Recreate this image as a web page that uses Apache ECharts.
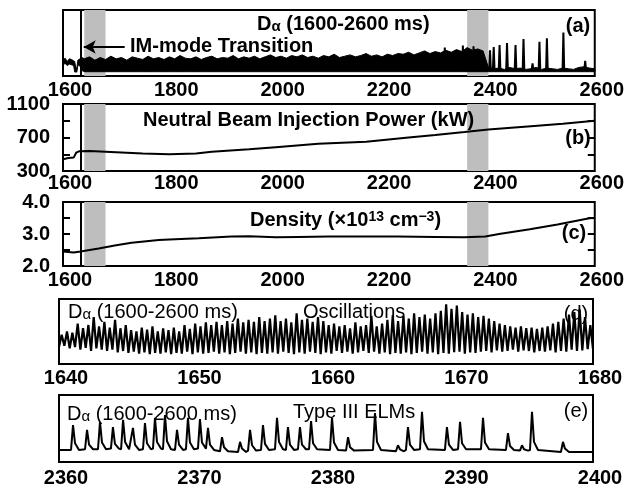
<!DOCTYPE html>
<html>
<head>
<meta charset="utf-8">
<script src="https://cdn.jsdelivr.net/npm/echarts@6/dist/echarts.min.js"></script>
<style>
  html, body { margin: 0; padding: 0; background: #fff; }
  #chart { width: 627px; height: 493px; }
</style>
</head>
<body>
<div id="chart"></div>
<script>
// ---------- panel (a): D-alpha, 1600-2600 ms ----------
const imTransition = 1633
const grayBands = [[1640, 1680], [2360, 2400]]
// dense signal drawn as a filled band: top edge every 10 ms from 1640
const bandStart = 1640
const bandStep = 10
const bandHi = [
  2.6, 2.9, 2.4, 2.8, 2.5, 3.0, 2.6, 2.8, 2.4, 2.9,
  2.7, 2.5, 3.0, 2.6, 2.8, 2.5, 2.9, 2.6, 3.1, 2.7,
  2.6, 2.9, 2.5, 2.8, 3.0, 2.6, 2.8, 2.7, 3.1, 2.6,
  2.9, 2.7, 3.0, 2.6, 2.9, 3.2, 2.8, 3.0, 2.7, 3.1,
  2.9, 3.2, 2.8, 3.0, 2.7, 3.1, 2.9, 3.3, 2.8, 3.0,
  3.2, 2.9, 3.1, 3.4, 3.0, 3.2, 2.9, 3.3, 3.1, 3.4,
  3.3, 3.6, 3.2, 3.5, 3.8, 3.4, 3.7, 3.5, 3.9, 3.6,
  4.0, 3.7, 4.3, 3.9, 4.1, 3.8, 1.3, 1.1, 1.2, 1.0,
  1.3, 1.1, 1.2, 1.0, 1.1, 1.3, 1.0, 1.2, 1.1, 1.0,
  1.2, 1.1, 1.0, 1.3, 1.4, 1.2, 1.1
]
const bandFloor = 0.65
// before the transition
const preT  = [1600, 1604, 1608, 1612, 1616, 1620, 1622, 1624, 1626, 1628, 1632, 1636, 1640]
const preHi = [2.4, 2.7, 2.2, 2.6, 2.5, 2.3, 2.2, 1.2, 1.2, 2.4, 2.6, 2.8, 2.6]
const preLo = [1.7, 1.9, 1.6, 1.8, 1.7, 1.6, 0.6, 0.6, 0.6, 1.7, 1.5, 0.8, 0.7]
// single spikes (ELMs after ~2400 and a few tall ones before)
const aSpikeT = [2318, 2352, 2372, 2403, 2410, 2421, 2435, 2451, 2466, 2483, 2496, 2510, 2541, 2582]
const aSpikeH = [4.3, 4.6, 4.5, 3.9, 4.4, 4.7, 5.0, 4.7, 5.6, 1.9, 5.2, 5.7, 6.6, 2.3]
const aSpikeBase = 1.0

// ---------- panel (b): neutral beam power (kW) ----------
const nbiT = [1600, 1610, 1620, 1625, 1630, 1650, 1700, 1750, 1800, 1850, 1880, 1950, 2000, 2080, 2170, 2250, 2300, 2355, 2400, 2480, 2540, 2600]
const nbiP = [440, 455, 460, 520, 535, 540, 525, 510, 500, 510, 530, 560, 585, 625, 650, 700, 730, 765, 795, 835, 865, 900]

// ---------- panel (c): density (1e13 cm^-3) ----------
const denT = [1600, 1620, 1633, 1650, 1667, 1700, 1729, 1780, 1800, 1855, 1917, 1950, 2000, 2042, 2100, 2229, 2300, 2355, 2394, 2420, 2478, 2530, 2590, 2600]
const denV = [2.45, 2.42, 2.45, 2.5, 2.55, 2.65, 2.73, 2.81, 2.83, 2.87, 2.92, 2.93, 2.9, 2.91, 2.92, 2.92, 2.91, 2.9, 2.92, 3.0, 3.15, 3.3, 3.49, 3.5]

// ---------- panel (d): oscillations 1640-1680 ----------
const oscStart = 1640
const oscPeriod = 0.4
const oscPeak = [
  4.5, 5.0, 4.8, 6.2, 5.5, 6.0, 7.2, 5.8, 6.5, 5.6,
  6.8, 5.5, 6.0, 5.2, 5.0, 5.6, 5.3, 5.8, 5.0, 5.5,
  5.2, 5.6, 5.0, 6.0, 5.4, 6.2, 5.8, 6.4, 6.0, 6.5,
  6.0, 6.6, 6.2, 7.0, 6.4, 6.8, 6.5, 7.2, 6.6, 7.0,
  7.5, 6.6, 7.0, 6.4, 7.8, 6.8, 7.0, 6.5, 7.2, 6.6,
  6.0, 6.2, 5.8, 6.0, 5.5, 6.4, 5.8, 6.0, 7.4, 5.8,
  6.2, 6.8, 7.5, 6.6, 7.4, 7.0, 7.8, 7.2, 7.6, 7.0,
  7.8, 8.2, 9.2, 8.5, 9.0, 8.0, 7.6, 7.8, 7.2, 7.4,
  7.0, 6.6, 6.2, 6.0, 5.8, 5.6, 5.8, 5.5, 5.6, 5.4,
  5.6, 5.8, 6.2, 6.5, 7.0, 7.6, 8.0, 8.4, 7.2, 6.0
]
const oscLow = [
  2.6, 2.8, 2.4, 2.6, 2.2, 2.5, 2.0, 2.4, 2.2, 2.0,
  2.2, 1.8, 2.0, 1.7, 1.9, 1.6, 1.8, 1.5, 1.7, 1.6,
  1.8, 1.5, 1.7, 1.6, 1.9, 1.5, 1.8, 1.6, 1.7, 1.9,
  1.6, 1.8, 1.5, 1.7, 1.9, 1.6, 1.8, 1.5, 1.7, 1.6,
  1.8, 1.6, 1.9, 1.7, 1.5, 1.8, 1.6, 1.9, 1.7, 1.5,
  1.8, 1.6, 2.0, 1.7, 1.9, 1.6, 1.8, 2.0, 1.7, 1.9,
  1.6, 1.8, 1.5, 1.7, 1.6, 1.8, 1.5, 1.7, 1.9, 1.6,
  1.8, 1.5, 1.7, 1.6, 1.8, 1.9, 1.6, 1.8, 1.7, 1.9,
  2.0, 1.8, 2.1, 1.9, 2.0, 2.2, 1.9, 2.1, 2.0, 1.8,
  2.0, 1.9, 2.1, 1.8, 2.0, 1.9, 2.2, 2.0, 2.1, 2.3
]

// ---------- panel (e): type III ELMs 2360-2400 ----------
const elmT = [2361.05, 2362.1, 2363.07, 2364.04, 2364.8, 2365.54, 2366.44, 2367.19, 2367.94, 2368.84,
  2369.66, 2370.56, 2371.16, 2372.21, 2373.56, 2374.31, 2375.28, 2376.33, 2377.15, 2378.05,
  2378.88, 2380.45, 2381.65, 2383.67, 2385.39, 2386.14, 2387.19, 2389.06, 2390.04, 2391.76,
  2393.63, 2394.68, 2395.43, 2397.75]
const elmPeak = [5.5, 4.8, 6.0, 5.2, 6.3, 5.1, 5.8, 6.6, 7.0, 4.8,
  6.6, 6.4, 5.1, 3.7, 3.0, 4.8, 5.5, 6.6, 5.2, 5.2,
  6.1, 6.6, 3.7, 7.3, 2.5, 5.2, 7.5, 5.2, 6.0, 6.6,
  4.3, 2.5, 7.5, 3.0]
const elmTail = [2.8, 2.6, 2.9, 2.7, 3.0, 2.6, 2.8, 3.0, 3.1, 2.6,
  2.9, 2.9, 2.6, 2.2, 2.0, 2.5, 2.7, 3.0, 2.6, 2.6,
  2.8, 2.9, 2.2, 3.0, 1.9, 2.6, 3.1, 2.6, 2.8, 2.9,
  2.4, 1.9, 3.0, 2.0]
const elmBase = [1.8, 1.9, 1.9, 2.0, 1.9, 1.8, 1.9, 2.0, 1.9, 1.8,
  1.9, 2.0, 1.8, 1.6, 1.5, 1.7, 1.8, 1.9, 1.8, 1.9,
  1.9, 1.8, 1.7, 1.8, 1.6, 1.8, 1.9, 1.8, 1.9, 1.9,
  1.8, 1.7, 1.8, 1.5]

// ---------- build series data ----------
const bandT = bandHi.map((v, i) => bandStart + i * bandStep)
const bandData = bandT.map((t, i) => [t, bandFloor, bandHi[i]])
const preData = preT.map((t, i) => [t, preLo[i], preHi[i]])
const aSpikes = []
aSpikeT.forEach((t, i) => {
  aSpikes.push([t - 1.5, aSpikeBase], [t, aSpikeH[i]], [t + 1.5, aSpikeBase], [t + 1.6, null])
})

const oscData = []
oscPeak.forEach((p, i) => {
  oscData.push([oscStart + i * oscPeriod, oscLow[i]])
  oscData.push([oscStart + (i + 0.5) * oscPeriod, p])
})
oscData.push([oscStart + oscPeak.length * oscPeriod, oscLow[oscLow.length - 1]])

const elmData = [[2360, elmBase[0]]]
elmT.forEach((t, i) => {
  elmData.push([t - 0.15, elmBase[i]], [t, elmPeak[i]], [t + 0.15, elmTail[i]], [t + 0.45, elmBase[i]])
})
elmData.push([2400, elmBase[elmBase.length - 1]])

// filled band between a low and a high edge, placed through the axes
function bandRender(params, api) {
  if (params.context.rendered) return
  params.context.rendered = true
  const top = [], bot = []
  const n = params.dataInsideLength
  for (let i = 0; i < n; i++) {
    top.push(api.coord([api.value(0, i), api.value(2, i)]))
    bot.push(api.coord([api.value(0, i), api.value(1, i)]))
  }
  return {
    type: 'polygon',
    shape: { points: top.concat(bot.reverse()) },
    style: { fill: '#000', stroke: '#000', lineWidth: 1 }
  }
}

// ---------- styling ----------
const FONT = 'Liberation Sans, Arial, Helvetica, sans-serif'
const tickFont = { fontFamily: FONT, fontWeight: 'bold', fontSize: 20, color: '#000' }
const boxGrid = (left, right, top, height) => ({
  left, right, top, height, show: true, borderColor: '#000', borderWidth: 2, backgroundColor: 'transparent'
})
const xAx = (gridIndex, min, max, interval, margin, shift) => ({
  type: 'value', gridIndex, min, max, interval,
  axisLine: { show: false }, axisTick: { show: false }, splitLine: { show: false },
  axisLabel: Object.assign({ margin, showMinLabel: true, showMaxLabel: true, padding: [0, 0, 0, shift],
    formatter: v => String(v) }, tickFont)
})
const yHidden = (gridIndex, min, max) => ({
  type: 'value', gridIndex, min, max, show: false, splitLine: { show: false }
})
const yTicks = (gridIndex, min, max, interval, position, labels) => ({
  type: 'value', gridIndex, min, max, interval, position,
  axisLine: { show: false }, splitLine: { show: false },
  axisTick: { show: true, inside: true, length: 7, lineStyle: { color: '#000', width: 2 } },
  axisLabel: Object.assign({ show: !!labels, margin: 13, formatter: labels || (() => '') }, tickFont)
})
// gray windows drawn by an empty series that sits under everything else
const grayWindows = (xi, yi) => ({
  type: 'line', xAxisIndex: xi, yAxisIndex: yi, data: [], silent: true, z: 1,
  markArea: {
    silent: true,
    itemStyle: { color: '#bebebe' },
    data: grayBands.map(b => [{ xAxis: b[0] }, { xAxis: b[1] }])
  }
})
const imLine = {
  silent: true, symbol: ['none', 'none'],
  label: { show: false },
  lineStyle: { color: '#000', width: 2, type: 'solid' },
  data: [{ xAxis: imTransition }]
}
const lineSeries = (xi, yi, data, width, extra) => Object.assign({
  type: 'line', xAxisIndex: xi, yAxisIndex: yi, data, symbol: 'none',
  lineStyle: { color: '#000', width }, silent: true, z: 3
}, extra || {})
const bandSeries = (data, extra) => Object.assign({
  type: 'custom', xAxisIndex: 0, yAxisIndex: 0, data, silent: true, z: 3,
  renderItem: bandRender, encode: { x: 0, y: [1, 2] }
}, extra || {})

const rich = (weight, supMode) => {
  const base = { fontFamily: FONT, fontWeight: weight, fontSize: 20, fill: '#000' }
  if (supMode) {
    return {
      m: Object.assign({ lineHeight: 20, padding: [3, 0, 0, 0], verticalAlign: 'bottom' }, base),
      p: Object.assign({}, base, { fontSize: 14, lineHeight: 14, verticalAlign: 'top' })
    }
  }
  return {
    m: Object.assign({ lineHeight: 20, verticalAlign: 'top' }, base),
    s: Object.assign({}, base, { fontSize: 15, lineHeight: 14, padding: [10, 0, 0, 0], verticalAlign: 'bottom' })
  }
}
const txt = (x, y, text, weight, align, richStyle) => ({
  type: 'text', x, y, silent: true, z: 10,
  style: {
    text, fill: '#000', align: align || 'left', verticalAlign: 'middle',
    fontFamily: FONT, fontWeight: weight, fontSize: 20, rich: richStyle
  }
})

const chart = echarts.init(document.getElementById('chart'))
chart.setOption({
  animation: false,
  backgroundColor: '#fff',
  grid: [
    boxGrid(63, 30, 10, 66),
    boxGrid(63, 30, 104, 67),
    boxGrid(63, 30, 202, 64),
    boxGrid(59, 34, 299, 65),
    boxGrid(59, 34, 395, 67)
  ],
  xAxis: [
    xAx(0, 1600, 2600, 200, 4, 14),
    xAx(1, 1600, 2600, 200, 2, 14),
    xAx(2, 1600, 2600, 200, 4, 14),
    xAx(3, 1640, 1680, 10, 4, 14),
    xAx(4, 2360, 2400, 10, 6, 14)
  ],
  yAxis: [
    yHidden(0, 0, 10),
    yTicks(1, 300, 1100, 200, 'left', v => (v === 300 || v === 700 || v === 1100) ? String(v) : ''),
    yTicks(1, 300, 1100, 200, 'right', null),
    yTicks(2, 2, 4, 0.5, 'left', v => (v % 1 === 0) ? v.toFixed(1) : ''),
    yTicks(2, 2, 4, 0.5, 'right', null),
    yHidden(3, 0, 10),
    yHidden(4, 0, 10)
  ],
  series: [
    grayWindows(0, 0),
    grayWindows(1, 1),
    grayWindows(2, 3),
    // (a)
    bandSeries(bandData),
    bandSeries(preData),
    lineSeries(0, 0, aSpikes, 2, {
      connectNulls: false,
      markLine: {
        silent: true, label: { show: false },
        lineStyle: { color: '#000', width: 2, type: 'solid' },
        symbol: ['none', 'none'],
        data: [
          { xAxis: imTransition },
          [{ coord: [1716, 4.4], symbol: 'none' }, { coord: [1639, 4.4], symbol: 'arrow', symbolSize: [10, 12] }]
        ]
      }
    }),
    // (b)
    lineSeries(1, 1, nbiT.map((t, i) => [t, nbiP[i]]), 2, { markLine: imLine }),
    // (c)
    lineSeries(2, 3, denT.map((t, i) => [t, denV[i]]), 2, { markLine: imLine }),
    // (d)
    lineSeries(3, 5, oscData, 2.2),
    // (e)
    lineSeries(4, 6, elmData, 2)
  ],
  graphic: [
    txt(257, 24.5, '{m|D}{s|α}{m| (1600-2600 ms)}', 'bold', 'left', rich('bold')),
    txt(130, 46, 'IM-mode Transition', 'bold'),
    txt(578, 26, '(a)', 'bold', 'center'),
    txt(143, 120, 'Neutral Beam Injection Power (kW)', 'bold'),
    txt(578, 138, '(b)', 'bold', 'center'),
    txt(250, 220.5, '{m|Density (×10}{p|13}{m| cm}{p|−3}{m|)}', 'bold', 'left', rich('bold', true)),
    txt(574, 233, '(c)', 'bold', 'center'),
    txt(68, 312, '{m|D}{s|α}{m| (1600-2600 ms)}', 'normal', 'left', rich('normal')),
    txt(303, 312, 'Oscillations', 'normal'),
    txt(576, 314, '(d)', 'normal', 'center'),
    txt(67, 414, '{m|D}{s|α}{m| (1600-2600 ms)}', 'normal', 'left', rich('normal')),
    txt(293, 412, 'Type III ELMs', 'normal'),
    txt(576, 411, '(e)', 'normal', 'center')
  ]
})
</script>
</body>
</html>
